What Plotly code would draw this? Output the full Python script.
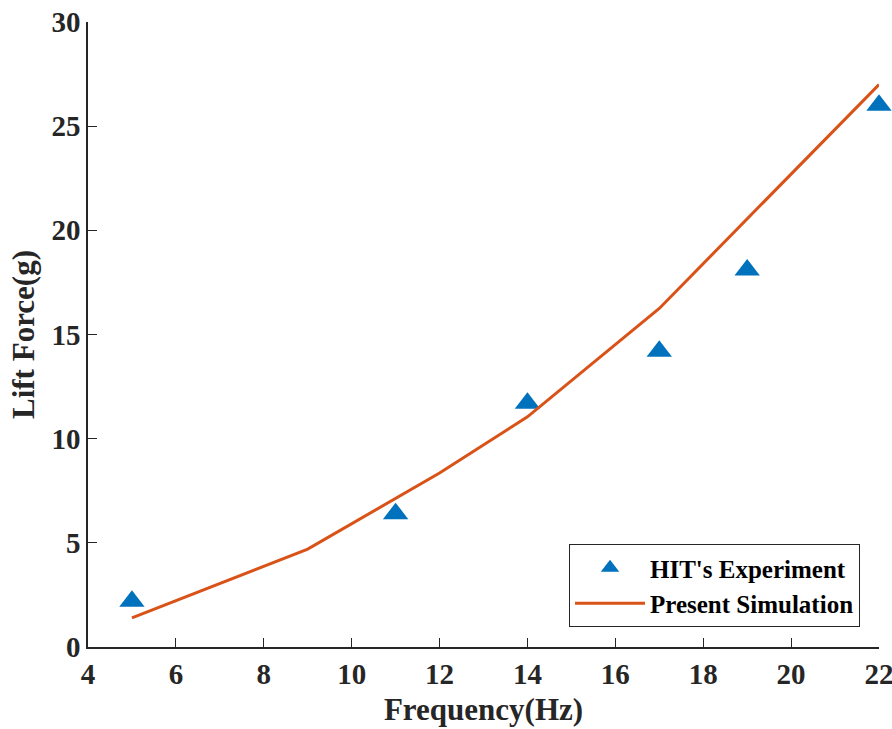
import plotly.graph_objects as go

# Data
exp_freq = [5, 11, 14, 17, 19, 22]
exp_lift = [2.2, 6.4, 11.7, 14.2, 18.1, 26.0]
sim_freq = [5, 9, 12, 14, 17, 22]
sim_lift = [1.4, 4.7, 8.35, 11.05, 16.25, 27.0]
x_ticks = [4, 6, 8, 10, 12, 14, 16, 18, 20, 22]
y_ticks = [0, 5, 10, 15, 20, 25, 30]

FONT = "Liberation Serif"
AX = "#262626"

fig = go.Figure()
fig.add_trace(go.Scatter(
    x=exp_freq, y=exp_lift, mode="markers", name="<b>HIT's Experiment</b>",
    marker=dict(symbol="triangle-up", size=22, color="#0072BD", line=dict(width=0)),
    cliponaxis=False,
))
fig.add_trace(go.Scatter(
    x=sim_freq, y=sim_lift, mode="lines", name="<b>Present Simulation</b>",
    line=dict(color="#D95319", width=3), cliponaxis=False,
))

fig.update_layout(
    width=892, height=729,
    margin=dict(l=88, r=13, t=22, b=82),
    paper_bgcolor="white", plot_bgcolor="white",
    font=dict(family=FONT, color=AX),
    showlegend=True,
    legend=dict(
        x=0.976, y=0.032, xanchor="right", yanchor="bottom",
        bgcolor="white", bordercolor=AX, borderwidth=1,
        font=dict(family=FONT, size=25, color="black"),
        tracegroupgap=0, itemwidth=70,
    ),
)
fig.update_xaxes(
    range=[4, 22], tickvals=x_ticks, ticktext=[f"<b>{t}</b>" for t in x_ticks],
    showgrid=False, zeroline=False, showline=True, linecolor=AX, linewidth=1.5,
    ticks="inside", ticklen=9, tickcolor=AX, tickwidth=1.3,
    tickfont=dict(family=FONT, size=29, color=AX),
    ticklabeloverflow="allow", automargin=False,
    title=dict(text="<b>Frequency(Hz)</b>", font=dict(family=FONT, size=31, color=AX), standoff=10),
)
fig.update_yaxes(
    range=[0, 30], tickvals=y_ticks, ticktext=[f"<b>{t}</b>" for t in y_ticks],
    showgrid=False, zeroline=False, showline=True, linecolor=AX, linewidth=1.5,
    ticks="inside", ticklen=9, tickcolor=AX, tickwidth=1.3,
    tickfont=dict(family=FONT, size=29, color=AX),
    ticklabeloverflow="allow", automargin=False,
    title=dict(text="<b>Lift Force(g)</b>", font=dict(family=FONT, size=31, color=AX), standoff=8),
)

fig.write_html("out.html")
